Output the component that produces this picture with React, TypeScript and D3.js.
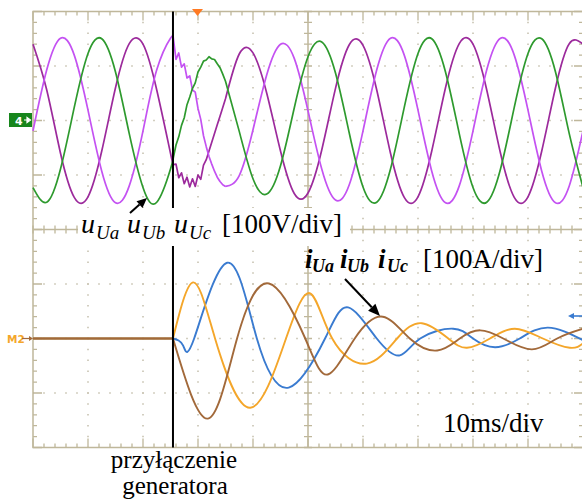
import React from 'react';
import * as d3 from 'd3';

const W = 582;
const H = 501;
const X0 = 33;
const X1 = 583;
const Y0 = 11.5;
const Y1 = 447.5;
const DIV_Y = 54.5;

// ---- voltages [V], time [ms] ----
const preT = [0, 2.5, 5, 7.5, 10, 12.5, 15, 17.5, 20, 22.5, 25, 25.5];
const violetPre = [-19, 93, 151, 120, 19, -93, -151, -120, -19, 93, 151, 152];
const greenPre = [-123, -150, -89, 24, 123, 150, 89, -24, -123, -150, -89, -69];
const magentaPre = [140, 56, -60, -141, -140, -56, 60, 141, 140, 56, -60, -81];

const transT = [25.5, 26, 26.5, 27, 27.5, 28, 28.5, 29, 29.5, 30, 30.5, 31, 31.5, 32, 32.5, 33, 33.5, 34, 34.5, 35];
const violetTrans = [152, 112, 124, 98, 104, 78, 82, 56, 52, 22, 2, -28, -48, -66, -80, -93, -104, -112, -118, -121];
const greenTrans = [-69, -45, -30, -9, 5, 29, 43, 59, 69, 89, 98, 109, 111, 117, 113, 112, 104, 97, 85, 72];
const magentaTrans = [-81, -80, -105, -96, -116, -104, -122, -107, -121, -100, -108, -82, -72, -56, -40, -24, -8, 8, 24, 40];

const postT = [35, 37.5, 40, 42.5, 45, 47.5, 50, 52.5, 55, 57.5, 60, 62.5, 65, 67.5, 70, 72.5, 75, 77.5, 80, 82.5, 85, 87.5, 90, 92.5, 95, 97.5, 100];
const violetPost = [-121, -101, -17, 84, 140, 114, 18, -89, -146, -118, -19, 93, 151, 120, 19, -93, -151, -120, -19, 93, 151, 120, 19, -93, -151, -120, -19];
const greenPost = [72, -20, -107, -135, -83, 23, 117, 144, 87, -23, -122, -150, -89, 24, 123, 150, 89, -24, -123, -150, -89, 24, 123, 150, 89, -24, -123];
const magentaPost = [40, 122, 124, 50, -56, -134, -133, -54, 59, 139, 138, 56, -60, -141, -140, -56, 60, 141, 140, 56, -60, -141, -140, -56, 60, 141, 140];

// ---- currents [A] ----
const connectT = 25.45;
const orangeT = [25.45, 29.1, 33.1, 39.5, 46.0, 50.4, 54.4, 60.7, 66.2, 70.7, 75.5, 78.9, 83.1, 87.6, 92.7, 97.6, 100];
const orangeA = [0, 103, 0, -127, 0, 83, 0, -46, 0, 28, 0, -17, 0, 18, 0, -17, -9];
const blueT = [25.45, 27.3, 29.3, 35.3, 40.7, 46.5, 53.1, 57.3, 62.5, 66.7, 70.4, 76.4, 80.0, 84.0, 88.5, 93.6, 100];
const blueA = [0, -13, 0, 139, 0, -90, 0, 57, 0, -31, 0, 18, 0, -16, 0, 20, -3];
const brownT = [25.45, 31.8, 37.1, 42.9, 49.5, 53.6, 58.5, 63.6, 68.5, 73.5, 77.6, 81.3, 85.5, 90.7, 95.3, 100];
const brownA = [0, -147, 0, 101, 0, -66, 0, 40, 0, -22, 0, 15, 0, -20, 0, 18];

const COL = {
  violet: '#c452f2',
  magenta: '#9c2a9c',
  green: '#2e9a2e',
  orange: '#f4a62a',
  blue: '#3a7bd0',
  brown: '#a2693a',
  grid: '#bfb79b',
  dots: '#c4bfac',
};

const x = d3.scaleLinear().domain([0, 100]).range([X0, X1]);
const yV = d3.scaleLinear().domain([-100, 100]).range([120.5 + DIV_Y, 120.5 - DIV_Y]);
const yI = d3.scaleLinear().domain([-100, 100]).range([338.5 + DIV_Y, 338.5 - DIV_Y]);

type P = [number, number];
const natV = d3.line<P>().x(d => x(d[0])).y(d => yV(d[1])).curve(d3.curveNatural);
const linV = d3.line<P>().x(d => x(d[0])).y(d => yV(d[1]));
const natI = d3.line<P>().x(d => x(d[0])).y(d => yI(d[1])).curve(d3.curveNatural);
const linI = d3.line<P>().x(d => x(d[0])).y(d => yI(d[1]));

const zip = (a: number[], b: number[]) => d3.zip(a, b) as P[];

const voltPath = (pre: number[], tr: number[], post: number[]) =>
  (natV(zip(preT, pre)) || '') + (linV(zip(transT, tr)) || '') + (natV(zip(postT, post)) || '');

const currPath = (t: number[], a: number[]) =>
  (linI([[0, 0], [connectT, 0]]) || '') + (natI(zip(t, a)) || '');

function gridPaths() {
  const xs = d3.range(0, 101, 10).map(v => x(v));
  const ys = d3.range(0, 9).map(k => Y0 + k * DIV_Y);
  const xc = x(50);
  const yc = Y0 + 4 * DIV_Y;
  let ticks = '';
  const minorX = d3.range(0, 51).map(i => X0 + i * 11);
  const minorY = d3.range(0, 41).map(i => Y0 + (i * DIV_Y) / 5);
  minorX.forEach((px, i) => {
    const len = i % 5 === 0 ? 9 : 4;
    ticks += `M${px},${Y0}v${len}M${px},${Y1}v${-len}M${px},${yc - 4}v8`;
  });
  minorY.forEach((py, i) => {
    const len = i % 5 === 0 ? 9 : 4;
    ticks += `M${X0},${py}h${len}M${X1},${py}h${-len}M${xc - 4},${py}h8`;
  });
  const frame = `M${X0},${Y0}H${X1}V${Y1}H${X0}ZM${xc},${Y0}V${Y1}M${X0},${yc}H${X1}`;
  const dotV = xs.filter((_, i) => i > 0 && i < 10 && i !== 5);
  const dotH = ys.filter((_, i) => i > 0 && i < 8 && i !== 4);
  return { ticks, frame, dotV, dotH };
}

function Arrow({ x1, y1, x2, y2, color = '#000', len = 10, w = 8, sw = 2 }: any) {
  const a = Math.atan2(y2 - y1, x2 - x1);
  const bx = x2 - len * Math.cos(a);
  const by = y2 - len * Math.sin(a);
  const px = (w / 2) * Math.sin(a);
  const py = (w / 2) * Math.cos(a);
  return (
    <g>
      <line x1={x1} y1={y1} x2={bx} y2={by} stroke={color} strokeWidth={sw} />
      <polygon points={`${x2},${y2} ${bx + px},${by - py} ${bx - px},${by + py}`} fill={color} />
    </g>
  );
}

export default function App() {
  const g = gridPaths();
  const serif = "'Liberation Serif', 'Times New Roman', serif";
  const sans = "'DejaVu Sans', Arial, sans-serif";
  return (
    <svg width={W} height={H} style={{ position: 'absolute', left: 0, top: 0, background: '#fff' }}>
      <rect x={0} y={0} width={W} height={H} fill="#fff" />
      {/* dotted grid */}
      {g.dotV.map((px, i) => (
        <line key={'dv' + i} x1={px} x2={px} y1={Y0} y2={Y1} stroke={COL.dots} strokeWidth={1.5}
          strokeDasharray={`1.5 ${DIV_Y / 5 - 1.5}`} strokeDashoffset={0.75} />
      ))}
      {g.dotH.map((py, i) => (
        <line key={'dh' + i} x1={X0} x2={X1} y1={py} y2={py} stroke={COL.dots} strokeWidth={1.5}
          strokeDasharray="1.5 9.5" strokeDashoffset={0.75} />
      ))}
      <path d={g.frame} fill="none" stroke={COL.grid} strokeWidth={1.5} />
      <path d={g.ticks} fill="none" stroke={COL.grid} strokeWidth={1.3} />

      {/* voltages */}
      <g fill="none" strokeWidth={1.7} strokeLinejoin="round">
        <path d={voltPath(magentaPre, magentaTrans, magentaPost)} stroke={COL.magenta} />
        <path d={voltPath(violetPre, violetTrans, violetPost)} stroke={COL.violet} />
        <path d={voltPath(greenPre, greenTrans, greenPost)} stroke={COL.green} />
      </g>

      {/* currents */}
      <g fill="none" strokeWidth={1.9} strokeLinejoin="round">
        <path d={currPath(blueT, blueA)} stroke={COL.blue} />
        <path d={currPath(orangeT, orangeA)} stroke={COL.orange} />
        <path d={currPath(brownT, brownA)} stroke={COL.brown} />
      </g>

      {/* connection instant */}
      <line x1={x(connectT)} x2={x(connectT)} y1={Y0} y2={Y1} stroke="#000" strokeWidth={2} />

      {/* markers */}
      <polygon points="192,9 203,9 197.5,16" fill="#ff7a22" />
      <rect x={9} y={113} width={23} height={14} fill="#17861c" />
      <text x={15} y={124.5} fontFamily={sans} fontSize={11} fontWeight="bold" fill="#fff">4</text>
      <path d="M24,120H29M27,117.5L30.5,120L27,122.5Z" stroke="#fff" strokeWidth={1.2} fill="#fff" />
      <text x={7} y={343} fontFamily={sans} fontSize={10.5} fontWeight="bold" fill={COL.orange}>M2</text>
      <Arrow x1={22} y1={338.5} x2={33} y2={338.5} color={COL.brown} len={4} w={5} sw={1.2} />
      <Arrow x1={582} y1={316} x2={568} y2={316} color={COL.blue} len={6} w={6} sw={1.6} />

      {/* voltage label */}
      <rect x={78} y={208} width={272} height={38} fill="#fff" />
      <g fontFamily={serif} fill="#000">
        <text x={81} y={233} fontSize={28} fontStyle="italic">u</text>
        <text x={96} y={239} fontSize={19} fontStyle="italic">Ua</text>
        <text x={127} y={233} fontSize={28} fontStyle="italic">u</text>
        <text x={142} y={239} fontSize={19} fontStyle="italic">Ub</text>
        <text x={174} y={233} fontSize={28} fontStyle="italic">u</text>
        <text x={189} y={239} fontSize={19} fontStyle="italic">Uc</text>
        <text x={222} y={233} fontSize={27}>[100V/div]</text>

        <text x={305} y={268} fontSize={27} fontStyle="italic" fontWeight="bold">i</text>
        <text x={312} y={272} fontSize={18} fontStyle="italic" fontWeight="bold">Ua</text>
        <text x={340} y={268} fontSize={27} fontStyle="italic" fontWeight="bold">i</text>
        <text x={347} y={272} fontSize={18} fontStyle="italic" fontWeight="bold">Ub</text>
        <text x={378} y={268} fontSize={27} fontStyle="italic" fontWeight="bold">i</text>
        <text x={387} y={272} fontSize={18} fontStyle="italic" fontWeight="bold">Uc</text>
        <text x={423} y={268} fontSize={27}>[100A/div]</text>

        <text x={443} y={432} fontSize={27}>10ms/div</text>
        <text x={174} y={468} fontSize={25} textAnchor="middle">przyłączenie</text>
        <text x={175} y={494} fontSize={25} textAnchor="middle">generatora</text>
      </g>

      <Arrow x1={130} y1={213} x2={147} y2={198} len={10} w={9} sw={2} />
      <Arrow x1={345} y1={279} x2={380} y2={316} len={12} w={10} sw={2} />
    </svg>
  );
}
